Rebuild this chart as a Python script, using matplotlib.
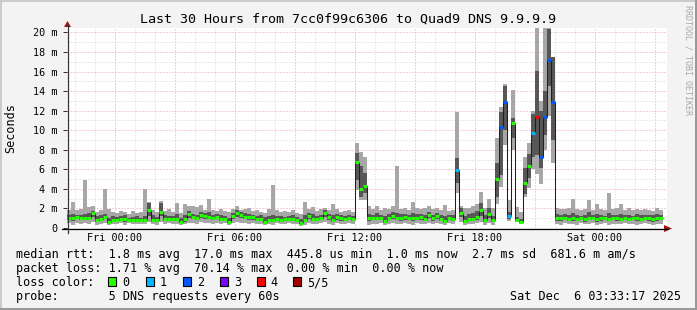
import numpy as np
import matplotlib
matplotlib.use("Agg")
import matplotlib.pyplot as plt
from matplotlib.patches import Rectangle, Polygon
from matplotlib.lines import Line2D
from matplotlib.ticker import MultipleLocator, FixedLocator, FixedFormatter, NullFormatter
from matplotlib.transforms import Affine2D, blended_transform_factory

# 12-minute consolidated steps, hours relative to Fri 00:00
t_start = -2.4
step = 0.2

# median rtt (ms)
median = [
    1.05, 1.05, 1.1, 1.05, 1.05, 1.05, 1.5, 0.8, 0.95, 1.15,
    0.65, 0.8, 0.85, 0.9, 0.9, 0.85, 0.8, 0.8, 0.8, 0.85,
    1.84, 0.85, 0.8, 1.67, 0.9, 0.9, 0.9, 0.95, 0.65, 0.9,
    1.4, 1.15, 1.05, 1.3, 1.2, 1.15, 1.05, 1.15, 0.95, 0.9,
    0.65, 1.2, 1.5, 1.3, 1.15, 1.1, 1.1, 0.9, 0.95, 0.65,
    0.85, 0.85, 0.95, 0.85, 0.9, 0.9, 0.95, 0.85, 0.55, 0.85,
    1.2, 0.95, 0.95, 1.0, 1.5, 1.1, 0.8, 1.15, 1.0, 0.95,
    1.0, 0.95, 6.7, 4.0, 4.3, 1.0, 1.0, 1.05, 1.0, 0.7,
    1.0, 1.2, 1.05, 1.0, 1.1, 1.0, 1.0, 1.05, 1.1, 0.9,
    1.3, 1.0, 1.2, 0.95, 0.75, 1.05, 0.95, 5.9, 1.56, 0.75,
    0.95, 0.95, 1.15, 1.87, 0.8, 1.4, 0.8, 5.0, 10.3, 12.9,
    1.2, 10.7, 0.8, 0.65, 4.6, 6.3, 9.7, 11.3, 7.3, 11.4,
    17.2, 12.9, 1.0, 1.0, 1.05, 0.95, 1.0, 0.95, 1.0, 0.9,
    1.05, 1.0, 0.9, 1.0, 1.0, 0.95, 1.0, 1.0, 0.95, 1.0,
    0.95, 1.0, 1.0, 0.95, 1.0, 1.0, 0.95, 1.0, 1.0,
]
# smoke: outer band (ping 1..5) and inner band (ping 2..4), ms
ping1 = [
    0.5, 0.3, 0.5, 0.4, 0.5, 0.4, 0.6, 0.3, 0.4, 0.5,
    0.3, 0.4, 0.4, 0.5, 0.3, 0.5, 0.4, 0.4, 0.4, 0.4,
    0.6, 0.4, 0.3, 0.6, 0.4, 0.5, 0.4, 0.4, 0.3, 0.4,
    0.5, 0.5, 0.4, 0.6, 0.5, 0.5, 0.4, 0.5, 0.4, 0.5,
    0.3, 0.5, 0.6, 0.5, 0.5, 0.4, 0.5, 0.4, 0.4, 0.3,
    0.4, 0.3, 0.5, 0.4, 0.4, 0.5, 0.4, 0.4, 0.2, 0.3,
    0.5, 0.4, 0.4, 0.5, 0.6, 0.4, 0.3, 0.5, 0.4, 0.4,
    0.5, 0.4, 3.9, 2.9, 2.9, 0.3, 0.4, 0.4, 0.5, 0.3,
    0.4, 0.5, 0.4, 0.4, 0.5, 0.4, 0.3, 0.5, 0.4, 0.4,
    0.5, 0.4, 0.5, 0.4, 0.3, 0.5, 0.4, 3.6, 0.6, 0.3,
    0.4, 0.4, 0.5, 0.6, 0.3, 0.5, 0.3, 2.5, 4.2, 8.5,
    0.7, 8.0, 0.6, 0.4, 3.2, 4.1, 6.0, 5.5, 4.5, 8.0,
    11.5, 6.6, 0.4, 0.3, 0.5, 0.4, 0.4, 0.3, 0.5, 0.4,
    0.4, 0.5, 0.3, 0.4, 0.5, 0.3, 0.4, 0.4, 0.4, 0.5,
    0.4, 0.4, 0.3, 0.4, 0.5, 0.4, 0.3, 0.4, 0.4,
]
ping2 = [
    0.8, 0.7, 0.9, 0.8, 0.9, 0.8, 1.1, 0.6, 0.7, 0.9,
    0.4, 0.6, 0.7, 0.7, 0.6, 0.7, 0.6, 0.6, 0.7, 0.6,
    1.2, 0.6, 0.6, 1.2, 0.7, 0.7, 0.7, 0.7, 0.5, 0.6,
    1.0, 0.9, 0.8, 1.0, 0.9, 0.9, 0.8, 0.9, 0.7, 0.7,
    0.5, 0.9, 1.1, 1.0, 0.9, 0.8, 0.8, 0.7, 0.7, 0.5,
    0.6, 0.6, 0.7, 0.6, 0.7, 0.7, 0.7, 0.6, 0.4, 0.6,
    0.9, 0.7, 0.7, 0.8, 1.1, 0.8, 0.6, 0.8, 0.7, 0.7,
    0.8, 0.7, 4.9, 3.2, 3.6, 0.7, 0.8, 0.8, 0.8, 0.5,
    0.8, 0.9, 0.8, 0.7, 0.8, 0.8, 0.7, 0.8, 0.8, 0.7,
    1.0, 0.7, 0.9, 0.7, 0.5, 0.8, 0.7, 4.6, 1.1, 0.5,
    0.7, 0.7, 0.8, 1.2, 0.6, 1.0, 0.6, 3.2, 5.4, 10.0,
    0.9, 9.2, 0.7, 0.5, 3.5, 5.1, 7.3, 7.5, 6.1, 9.5,
    14.5, 9.0, 0.7, 0.7, 0.8, 0.7, 0.7, 0.7, 0.8, 0.6,
    0.8, 0.8, 0.6, 0.7, 0.8, 0.7, 0.8, 0.7, 0.7, 0.8,
    0.7, 0.8, 0.7, 0.7, 0.8, 0.7, 0.6, 0.7, 0.8,
]
ping4 = [
    1.3, 1.4, 1.3, 1.3, 1.4, 1.5, 1.7, 1.2, 1.3, 1.4,
    1.0, 1.2, 1.1, 1.2, 1.3, 1.0, 1.1, 1.2, 1.0, 1.2,
    2.6, 1.3, 1.1, 2.6, 1.3, 1.2, 1.2, 1.4, 1.0, 1.3,
    1.7, 1.4, 1.3, 1.6, 1.5, 1.6, 1.3, 1.4, 1.3, 1.2,
    1.0, 1.5, 1.8, 1.6, 1.5, 1.4, 1.3, 1.2, 1.3, 1.1,
    1.2, 1.3, 1.2, 1.2, 1.1, 1.2, 1.3, 1.1, 0.9, 1.3,
    1.5, 1.4, 1.2, 1.3, 1.8, 1.4, 1.3, 1.4, 1.3, 1.2,
    1.3, 1.2, 7.7, 6.3, 5.6, 1.4, 1.3, 1.5, 1.3, 1.2,
    1.4, 1.6, 1.5, 1.4, 1.4, 1.3, 1.5, 1.4, 1.4, 1.3,
    1.6, 1.3, 1.5, 1.3, 1.2, 1.3, 1.3, 7.2, 2.0, 1.2,
    1.4, 1.5, 1.7, 2.6, 1.3, 2.0, 1.2, 6.6, 11.9, 14.5,
    1.6, 11.2, 1.1, 0.9, 6.1, 7.6, 11.7, 16.1, 12.0, 14.0,
    20.3, 17.5, 1.4, 1.3, 1.4, 1.3, 1.5, 1.3, 1.2, 1.3,
    1.6, 1.3, 1.4, 1.3, 1.2, 1.5, 1.3, 1.3, 1.4, 1.3,
    1.3, 1.2, 1.4, 1.3, 1.3, 1.3, 1.3, 1.4, 1.3,
]
ping5 = [
    1.8, 2.7, 1.8, 1.9, 4.9, 2.1, 2.3, 1.6, 1.8, 4.0,
    1.9, 1.6, 1.5, 1.7, 1.6, 1.4, 1.7, 1.5, 1.6, 4.0,
    2.7, 1.8, 1.6, 2.8, 1.7, 1.9, 1.6, 2.6, 1.5, 2.5,
    2.2, 2.2, 2.1, 2.4, 1.8, 3.0, 1.8, 1.7, 1.9, 1.7,
    1.6, 1.9, 2.3, 1.8, 1.9, 2.0, 1.7, 1.8, 1.6, 1.5,
    1.9, 4.4, 1.8, 1.6, 1.7, 1.6, 1.8, 1.5, 1.4, 2.7,
    1.9, 2.1, 1.7, 1.9, 2.0, 1.8, 2.5, 1.9, 1.6, 1.7,
    1.8, 1.6, 8.65, 7.8, 7.3, 2.2, 1.9, 2.2, 1.8, 2.0,
    1.9, 2.3, 6.3, 1.9, 2.0, 1.8, 2.7, 2.0, 1.9, 2.0,
    2.2, 1.9, 2.0, 1.8, 2.4, 1.7, 1.8, 11.9, 2.3, 2.0,
    2.0, 2.2, 2.5, 3.7, 2.0, 3.0, 2.0, 9.2, 12.4, 14.7,
    2.9, 14.1, 2.1, 1.6, 7.3, 8.7, 12.0, 20.5, 13.0, 20.5,
    20.4, 17.5, 2.0, 1.9, 1.9, 2.0, 2.95, 1.9, 1.8, 1.9,
    2.9, 1.8, 2.5, 1.9, 1.8, 3.6, 1.9, 2.0, 2.5, 1.8,
    2.0, 1.8, 1.9, 1.8, 1.9, 1.8, 1.7, 2.0, 1.8,
]
# number of lost pings (of 5) per step
loss = [0] * 149
for k, v in {97: 1, 108: 2, 109: 2, 110: 1, 116: 1, 117: 4,
             118: 2, 119: 2, 120: 2, 121: 2}.items():
    loss[k] = v

loss_colors = ["#26ff00", "#00b8ff", "#0059ff", "#7e00ff", "#ff0000", "#a00000"]
loss_labels = ["0", "1", "2", "3", "4", "5/5"]

x_ticks = [0, 6, 12, 18, 24]
x_labels = ["Fri 00:00", "Fri 06:00", "Fri 12:00", "Fri 18:00", "Sat 00:00"]

title = "Last 30 Hours from 7cc0f99c6306 to Quad9 DNS 9.9.9.9"
legend_rows = [
    "median rtt:  1.8 ms avg  17.0 ms max  445.8 us min  1.0 ms now  2.7 ms sd  681.6 m am/s",
    "packet loss: 1.71 % avg  70.14 % max  0.00 % min  0.00 % now",
    "loss color:",
    "probe:       5 DNS requests every 60s",
]
stamp = "Sat Dec  6 03:33:17 2025"

W, H = 697, 310
plt.rcParams["font.family"] = ["DejaVu Sans Mono"]
fig = plt.figure(figsize=(W / 100, H / 100), dpi=100)
fig.patch.set_facecolor("#f3f3f3")
# pixel coordinates, origin top-left
pxT = Affine2D().scale(1 / W, -1 / H).translate(0, 1) + fig.transFigure

ax = fig.add_axes([67 / W, 1 - 228 / H, 600 / W, 200 / H])
ax.set_facecolor("white")
ax.set_xlim(t_start, t_start + 30)
ax.set_ylim(0, 200 / 9.78)

n = len(median)
left = t_start + step * np.arange(n)
med = np.array(median)
p1, p2, p4, p5 = map(np.array, (ping1, ping2, ping4, ping5))

ax.bar(left, p5 - p1, bottom=p1, width=step, align="edge", color="#a7a7a7", linewidth=0, zorder=1)
ax.bar(left, p4 - p2, bottom=p2, width=step, align="edge", color="#575757", linewidth=0, zorder=1.1)
edges = t_start + step * np.arange(n + 1)
ax.stairs(med, edges, baseline=None, color="#202020", lw=0.75, zorder=3)
ax.hlines(med, left, left + step, colors=[loss_colors[l] for l in loss],
          lw=2.2, zorder=3.5, capstyle="butt")

# grid (under the smoke)
ax.set_axisbelow(True)
ax.xaxis.set_major_locator(MultipleLocator(3))
ax.xaxis.set_minor_locator(MultipleLocator(1))
ax.xaxis.set_major_formatter(NullFormatter())
ax.yaxis.set_major_locator(FixedLocator(list(range(0, 21, 2))))
ax.yaxis.set_minor_locator(MultipleLocator(1))
ax.yaxis.set_major_formatter(FixedFormatter(["0"] + [f"{v} m" for v in range(2, 21, 2)]))
ax.grid(which="minor", color="#d4d4d4", linestyle=(0, (1, 2)), lw=0.72)
ax.grid(which="major", color="#f2a0a0", linestyle=(0, (1, 2)), lw=0.72)
for s in ax.spines.values():
    s.set_visible(False)

ax.tick_params(axis="x", which="both", length=0)
ax.tick_params(axis="y", which="major", length=3, width=0.72, color="#333333", pad=4,
               labelsize=7.25)
ax.tick_params(axis="y", which="minor", length=0)

xlab_T = blended_transform_factory(ax.transData, pxT)
for tx, lab in zip(x_ticks, x_labels):
    ax.text(tx, 241, lab, transform=xlab_T, ha="center", va="baseline", fontsize=7.25)

# axis lines and arrows
fig.add_artist(Line2D([62, 668], [228.5, 228.5], transform=pxT, color="black", lw=0.9))
fig.add_artist(Line2D([67.5, 67.5], [233, 25], transform=pxT, color="#333333", lw=0.9))
fig.add_artist(Polygon([[664, 225], [664, 232], [672, 228.5]], closed=True, transform=pxT,
                       color="#a01010", lw=0))
fig.add_artist(Polygon([[64, 27], [71, 27], [67.5, 21]], closed=True, transform=pxT,
                       color="#a01010", lw=0))

# frame shading
fig.add_artist(Rectangle((0, 0), W, 2, transform=pxT, color="#cbcbcb", lw=0))
fig.add_artist(Rectangle((0, 0), 2, H, transform=pxT, color="#cbcbcb", lw=0))
fig.add_artist(Rectangle((0, H - 2), W, 2, transform=pxT, color="#999999", lw=0))
fig.add_artist(Rectangle((W - 2, 0), 2, H, transform=pxT, color="#999999", lw=0))

fig.text(348, 23, title, transform=pxT, ha="center", va="baseline", fontsize=9.6)
fig.text(11, 128, "Seconds", transform=pxT, ha="center", va="center", rotation=90, fontsize=8.5)
fig.text(688, 60, "RRDTOOL / TOBI OETIKER", transform=pxT, ha="center", va="center",
         rotation=270, fontsize=6, color="#a8a8a8")

for row, yb in zip(legend_rows, [258, 272, 286, 300]):
    fig.text(15.5, yb, row, transform=pxT, ha="left", va="baseline", fontsize=8.5)
fig.text(681, 300, stamp, transform=pxT, ha="right", va="baseline", fontsize=8.5)

box_x = [108.3, 145.7, 182.7, 220, 256.7, 293]
for bx, col, lab in zip(box_x, loss_colors, loss_labels):
    fig.add_artist(Rectangle((bx, 277), 8, 8.5, transform=pxT, facecolor=col,
                             edgecolor="black", lw=0.8))
    fig.text(bx + 14, 286, lab, transform=pxT, ha="left", va="baseline", fontsize=8.5)

fig.savefig("out.png", dpi=100, facecolor=fig.get_facecolor())
